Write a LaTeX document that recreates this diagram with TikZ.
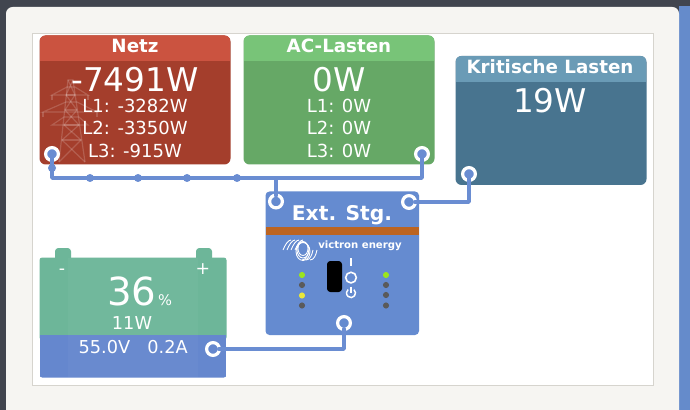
\documentclass[tikz,border=0pt]{standalone}
\usepackage{fontspec}
\setmainfont{DejaVu Sans}
\definecolor{dlgbg}{HTML}{F6F5F2}
\definecolor{dark}{HTML}{41454F}
\definecolor{strip}{HTML}{658BCB}
\definecolor{framec}{HTML}{D6D4CE}
\definecolor{redhead}{HTML}{CB5340}
\definecolor{redbody}{HTML}{A43E2C}
\definecolor{greenhead}{HTML}{78C478}
\definecolor{greenbody}{HTML}{66A866}
\definecolor{tealhead}{HTML}{6A9BB6}
\definecolor{tealbody}{HTML}{48748F}
\definecolor{batgreen}{HTML}{6DB699}
\definecolor{batblue}{HTML}{6587CE}
\definecolor{bluebox}{HTML}{658BD0}
\definecolor{orangebar}{HTML}{BC6421}
\definecolor{wire}{HTML}{6A8DD2}
\definecolor{ledg}{HTML}{9BE41E}
\definecolor{ledy}{HTML}{E8E83A}
\definecolor{ledo}{HTML}{5A5A5A}
\tikzset{
 x=0.75pt,y=-0.75pt,
 wireline/.style={draw=wire,line width=2.6pt,line join=round,line cap=round},
 dotn/.style={circle,fill=wire,inner sep=0pt,minimum size=6pt},
 portopen/.style={circle,draw=white,line width=2.4pt,fill=bluebox,inner sep=0pt,minimum size=9.6pt},
 portfull/.style={circle,draw=white,line width=2.4pt,fill=wire,inner sep=0pt,minimum size=9.6pt},
 txt/.style={text=white,inner sep=0pt,anchor=base},
 led/.style={circle,inner sep=0pt,minimum size=4.6pt},
 head/.style={txt,font=\fontsize{13.7}{13.7}\selectfont\bfseries},
 big/.style={txt,font=\fontsize{24.5}{24.5}\selectfont},
 phase/.style={txt,font=\fontsize{13.5}{13.5}\selectfont},
 batt/.style={txt,font=\fontsize{13.3}{13.3}\selectfont},
 overlapend/.style={shorten >=-1.6pt},
 overlapstart/.style={shorten <=-1.6pt},
}
\newcommand{\tile}[7]{% x1 y1 x2 y2 headbottom head body
 \fill[#7,rounded corners=4.5pt] (#1,#2) rectangle (#3,#4);
 \begin{scope}
 \clip[rounded corners=4.5pt] (#1,#2) rectangle (#3,#4);
 \fill[#6] (#1,#2) rectangle (#3,#5);
 \end{scope}}
\begin{document}
\begin{tikzpicture}
\useasboundingbox (0,0) rectangle (690,410);
\fill[dark] (0,0) rectangle (690,410);
\fill[strip] (679,6) rectangle (690,410);
\fill[dlgbg,rounded corners=5pt] (6,7) rectangle (679,420);
\fill[white,draw=framec,line width=0.7pt] (32.5,33.5) rectangle (653.5,385.5);

% tiles
\tile{39.5}{35.5}{230.5}{164.5}{61.5}{redhead}{redbody}
\tile{243.5}{35.5}{434.5}{164.5}{61.5}{greenhead}{greenbody}
\tile{455.5}{56}{646.5}{185}{82}{tealhead}{tealbody}

% pylon
\begin{scope}[draw=white,draw opacity=0.17,line width=0.9pt]
 \draw (59,162) -- (68,80) -- (73,80) -- (85,162);
 \draw (62,140) -- (81,140) (64,125) -- (79,125) (65,110) -- (77,110) (66,95) -- (75,95);
 \draw (59,162) -- (81,140) -- (64,125) -- (77,110) -- (66,95) -- (73,80);
 \draw (85,162) -- (62,140) -- (79,125) -- (65,110) -- (75,95) -- (68,80);
 \draw (43,112) -- (66,102) -- (77,102) -- (97,112) -- cycle;
 \draw (52,95) -- (67,87) -- (75,87) -- (88,95) -- cycle;
 \draw (52,125) -- (64,117) -- (79,117) -- (88,125) -- cycle;
 \draw (43,112) -- (43,117) (97,112) -- (97,117) (52,95) -- (52,100) (88,95) -- (88,100);
\end{scope}

% Battery
\fill[batgreen,rounded corners=2.5pt] (55,248) rectangle (71,262);
\fill[batgreen,rounded corners=2.5pt] (196,248) rectangle (212,262);
\fill[batgreen,rounded corners=2pt] (39.5,257.5) rectangle (226.5,340);
\begin{scope}
 \clip[rounded corners=2pt] (39.5,257.5) rectangle (226.5,377.5);
 \fill[batblue] (39.5,335) rectangle (226.5,377.5);
 \fill[white,opacity=0.03] (68,257.5) rectangle (198,377.5);
\end{scope}

% Ext. Stg. box
\fill[bluebox,rounded corners=3pt] (265.5,191.5) rectangle (419,335);
\fill[orangebar] (265.5,227) rectangle (419,235);

% Texts
\node[head] (netzt) at (135,53) {Netz};
\node[big] (netzv) at (135,92) {-7491W};
\node[phase] (nl1) at (135,113) {L1: -3282W};
\node[phase] (nl2) at (135,135) {L2: -3350W};
\node[phase] (nl3) at (135,157) {L3: -915W};

\node[head] (acT) at (339,53) {AC-Lasten};
\node[big] (acv) at (339,92) {0W};
\node[phase] (al1) at (339,113) {L1: 0W};
\node[phase] (al2) at (339,135) {L2: 0W};
\node[phase] (al3) at (339,157) {L3: 0W};

\node[head] (krT) at (550,73.5) {Kritische Lasten};
\node[big] (krv) at (550,112.5) {19W};

\node[txt,font=\fontsize{15.2}{15.2}\selectfont\bfseries] (ext) at (342,220.5) {Ext. Stg.};

\node[txt,font=\fontsize{13}{13}\selectfont] (minus) at (62,274.5) {-};
\node[txt,font=\fontsize{13}{13}\selectfont] (plus) at (203,274.5) {+};
\node[txt,font=\fontsize{29}{29}\selectfont] (soc) at (132,305) {36};
\node[txt,font=\fontsize{11}{11}\selectfont] (pct) at (165,305) {\%};
\node[batt] (batw) at (132,329.5) {11W};
\node[batt] (batv) at (104.5,353.5) {55.0V};
\node[batt] (bata) at (167.5,353.5) {0.2A};

% Victron logo
\begin{scope}[draw=white,line width=0.65pt]
 \foreach \dx in {0,4,8,12} {
  \draw (283+\dx,250) .. controls (285+\dx,245) and (288+\dx,240) .. (291+\dx,240);
 }
 \foreach \dx in {0,4,8} {
  \draw (302+\dx,260) .. controls (306+\dx,260) and (308+\dx,255) .. (309+\dx,250);
 }
 \foreach \dy in {0,3,6} {
  \draw (303,248.5+\dy/2) ellipse [x radius=5+\dy/3,y radius=7+\dy/3];
 }
\end{scope}
\node[txt,font=\fontsize{7.6}{7.6}\selectfont\bfseries] (vic) at (360,248) {victron energy};

% LEDs and switch
\node[led,fill=ledg] (l1) at (302,275) {};
\node[led,fill=ledo] (l2) at (302,285) {};
\node[led,fill=ledy] (l3) at (302,295.5) {};
\node[led,fill=ledo] (l4) at (302,305.5) {};
\node[led,fill=ledg] (r1) at (386,275) {};
\node[led,fill=ledo] (r2) at (386,285) {};
\node[led,fill=ledo] (r3) at (386,295) {};
\node[led,fill=ledo] (r4) at (386,305.5) {};
\fill[black,rounded corners=2.5pt] (327,261) rectangle (342,292);
\draw[white,line width=1.1pt] (351,258) -- (351,266);
\node[circle,draw=white,line width=1.2pt,inner sep=0pt,minimum size=8pt] (sw) at (351,277.6) {};
\draw[white,line width=1.1pt] (353.9,289.6) arc[start angle=-50,end angle=230,radius=4.5];
\draw[white,line width=1.1pt] (351,286.5) -- (351,293);

% Connectors
\node[portfull] (pnetz) at (52,154) {};
\node[portfull] (pac) at (422,154) {};
\node[portfull] (pkr) at (469,174) {};
\node[portopen] (pe1) at (276,201.5) {};
\node[portopen] (pe2) at (409,202) {};
\node[portopen] (pe3) at (344,323) {};
\node[portopen,fill=batblue] (pbat) at (213,349) {};
\node[dotn] (d0) at (52,168) {};
\node[dotn] (d1) at (90,178) {};
\node[dotn] (d2) at (138,178) {};
\node[dotn] (d3) at (187,178) {};
\node[dotn] (d4) at (237,178) {};
\coordinate (bl) at (52,178);
\coordinate (br) at (422,178);
\coordinate (bm) at (276,178);
\draw[wireline] (pnetz.center) -- (d0.center) -- (bl) -- (d1.center) -- (d2.center) -- (d3.center) -- (d4.center) -- (bm) -- (br) -- (pac.center);
\draw[wireline,overlapend] (bm) -- (pe1.north);
\draw[wireline,overlapend] (pkr.center) |- (pe2.east);
\draw[wireline,overlapstart,overlapend] (pe3.south) |- (pbat.east);
\end{tikzpicture}
\end{document}
